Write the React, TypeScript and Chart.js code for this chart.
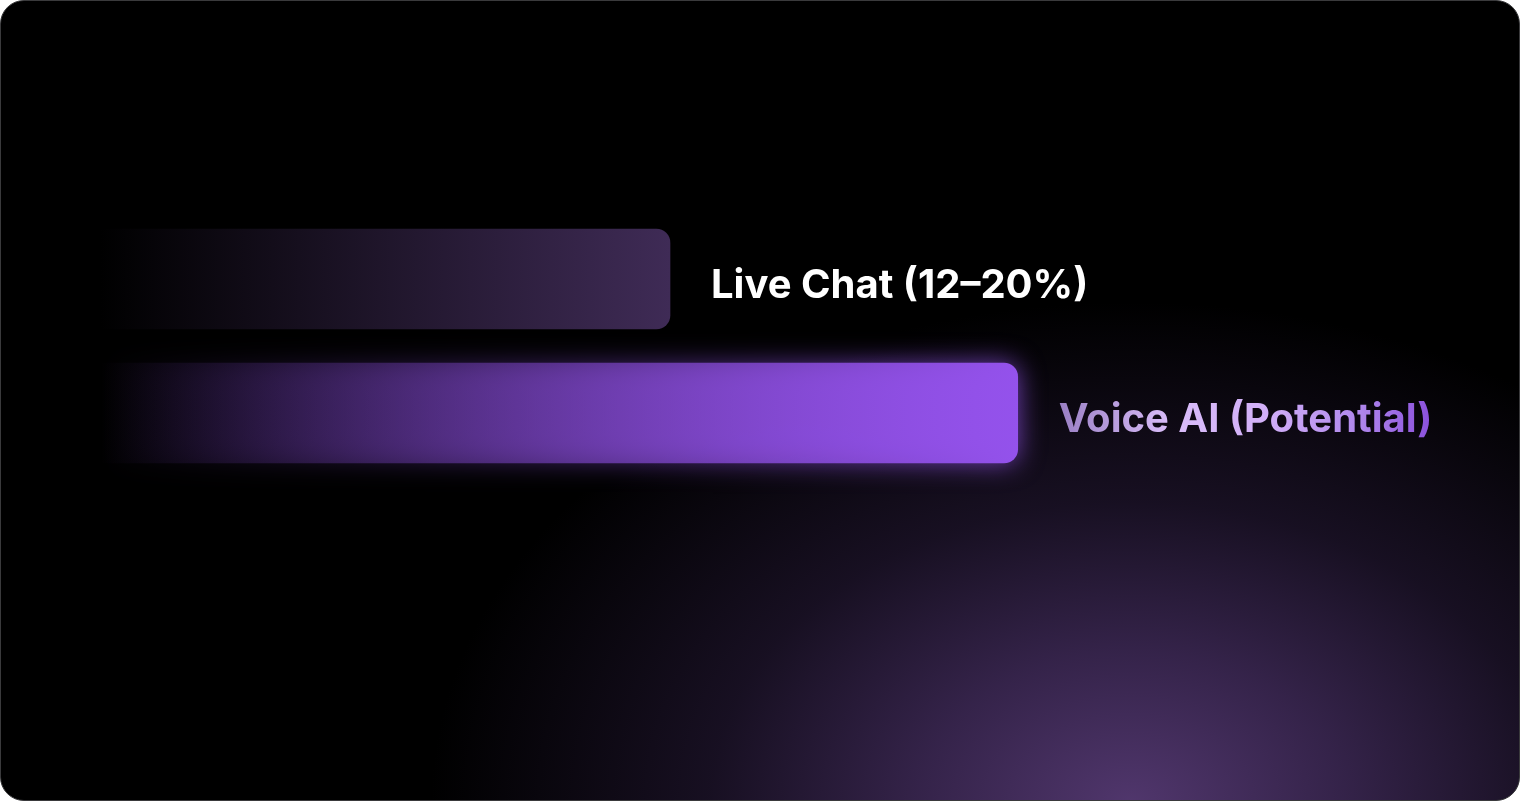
import React, { useEffect, useRef } from "react";
import { Chart, registerables } from "chart.js";

Chart.register(...registerables);

const categories = ["Live Chat (12–20%)", "Voice AI (Potential)"];
const values = [20, 32.2];
const barEndColors = ["rgb(63,43,86)", "rgb(148,82,236)"];
const labelColors = ["#ffffff", "gradient"];

const W = 1520;
const H = 801;

export default function App() {
  const ref = useRef<HTMLCanvasElement | null>(null);

  useEffect(() => {
    document.body.style.margin = "0";
    document.body.style.background = "#ffffff";
    const canvas = ref.current;
    if (!canvas) return;

    const withAlpha = (rgb: string, a: number) =>
      rgb.replace("rgb(", "rgba(").replace(")", `,${a})`);

    const barPlugin = {
      id: "customBars",
      beforeDatasetDraw(chart: any, args: any) {
        const ctx = chart.ctx;
        args.meta.data.forEach((el: any, i: number) => {
          ctx.save();
          if (i === 1) {
            ctx.shadowColor = "rgba(150,85,240,0.75)";
            ctx.shadowBlur = 26;
          }
          el.draw(ctx, chart.chartArea);
          ctx.restore();
        });
        return false;
      },
      afterDatasetsDraw(chart: any) {
        const ctx = chart.ctx;
        const meta = chart.getDatasetMeta(0);
        ctx.save();
        ctx.font = "700 40px Inter, 'Noto Sans', sans-serif";
        ctx.textAlign = "left";
        ctx.textBaseline = "alphabetic";
        meta.data.forEach((el: any, i: number) => {
          const text = categories[i];
          const x = el.x + 41;
          const y = el.y + 19;
          if (labelColors[i] === "gradient") {
            const w = ctx.measureText(text).width;
            const g = ctx.createLinearGradient(x, 0, x + w, 0);
            g.addColorStop(0, "#9a80c4");
            g.addColorStop(0.3, "#d9bdf9");
            g.addColorStop(0.55, "#d2b0f8");
            g.addColorStop(0.8, "#b088ec");
            g.addColorStop(1, "#8a4fdc");
            ctx.fillStyle = g;
          } else {
            ctx.fillStyle = labelColors[i];
          }
          ctx.fillText(text, x, y);
        });
        ctx.restore();
      },
    };

    const chart = new Chart(canvas, {
      type: "bar",
      data: {
        labels: categories,
        datasets: [
          {
            data: values,
            barThickness: 100,
            borderRadius: { topLeft: 0, bottomLeft: 0, topRight: 14, bottomRight: 14 },
            borderSkipped: false,
            backgroundColor: (c: any) => {
              const chartObj = c.chart;
              const area = chartObj.chartArea;
              const idx = c.dataIndex ?? 0;
              const col = barEndColors[idx] || barEndColors[0];
              if (!area) return col;
              const xs = chartObj.scales.x;
              const end = xs.getPixelForValue(values[idx]);
              const g = chartObj.ctx.createLinearGradient(area.left, 0, end, 0);
              g.addColorStop(0, withAlpha(col, 0));
              g.addColorStop(1, withAlpha(col, 1));
              return g;
            },
          },
        ],
      },
      options: {
        indexAxis: "y",
        responsive: false,
        animation: false,
        devicePixelRatio: 1,
        layout: { padding: { left: 100, right: 280, top: 212, bottom: 321 } },
        plugins: { legend: { display: false }, tooltip: { enabled: false } },
        scales: {
          x: { display: false, min: 0, max: 40 },
          y: { display: false, grid: { display: false } },
        },
      },
      plugins: [barPlugin],
    });

    return () => chart.destroy();
  }, []);

  return (
    <div style={{ position: "relative", width: W, height: H }}>
      <div
        style={{
          position: "absolute",
          inset: 0,
          boxSizing: "border-box",
          borderRadius: 24,
          border: "1.5px solid #3a3a3c",
          overflow: "hidden",
          background:
            "radial-gradient(ellipse 700px 500px at 1130px 801px, rgba(80,54,108,1) 0%, rgba(60,40,84,0.88) 30%, rgba(36,24,52,0.65) 60%, rgba(0,0,0,0) 100%), #000",
        }}
      />
      <canvas
        ref={ref}
        width={W}
        height={H}
        style={{ position: "absolute", left: 0, top: 0, width: W, height: H }}
      />
    </div>
  );
}
